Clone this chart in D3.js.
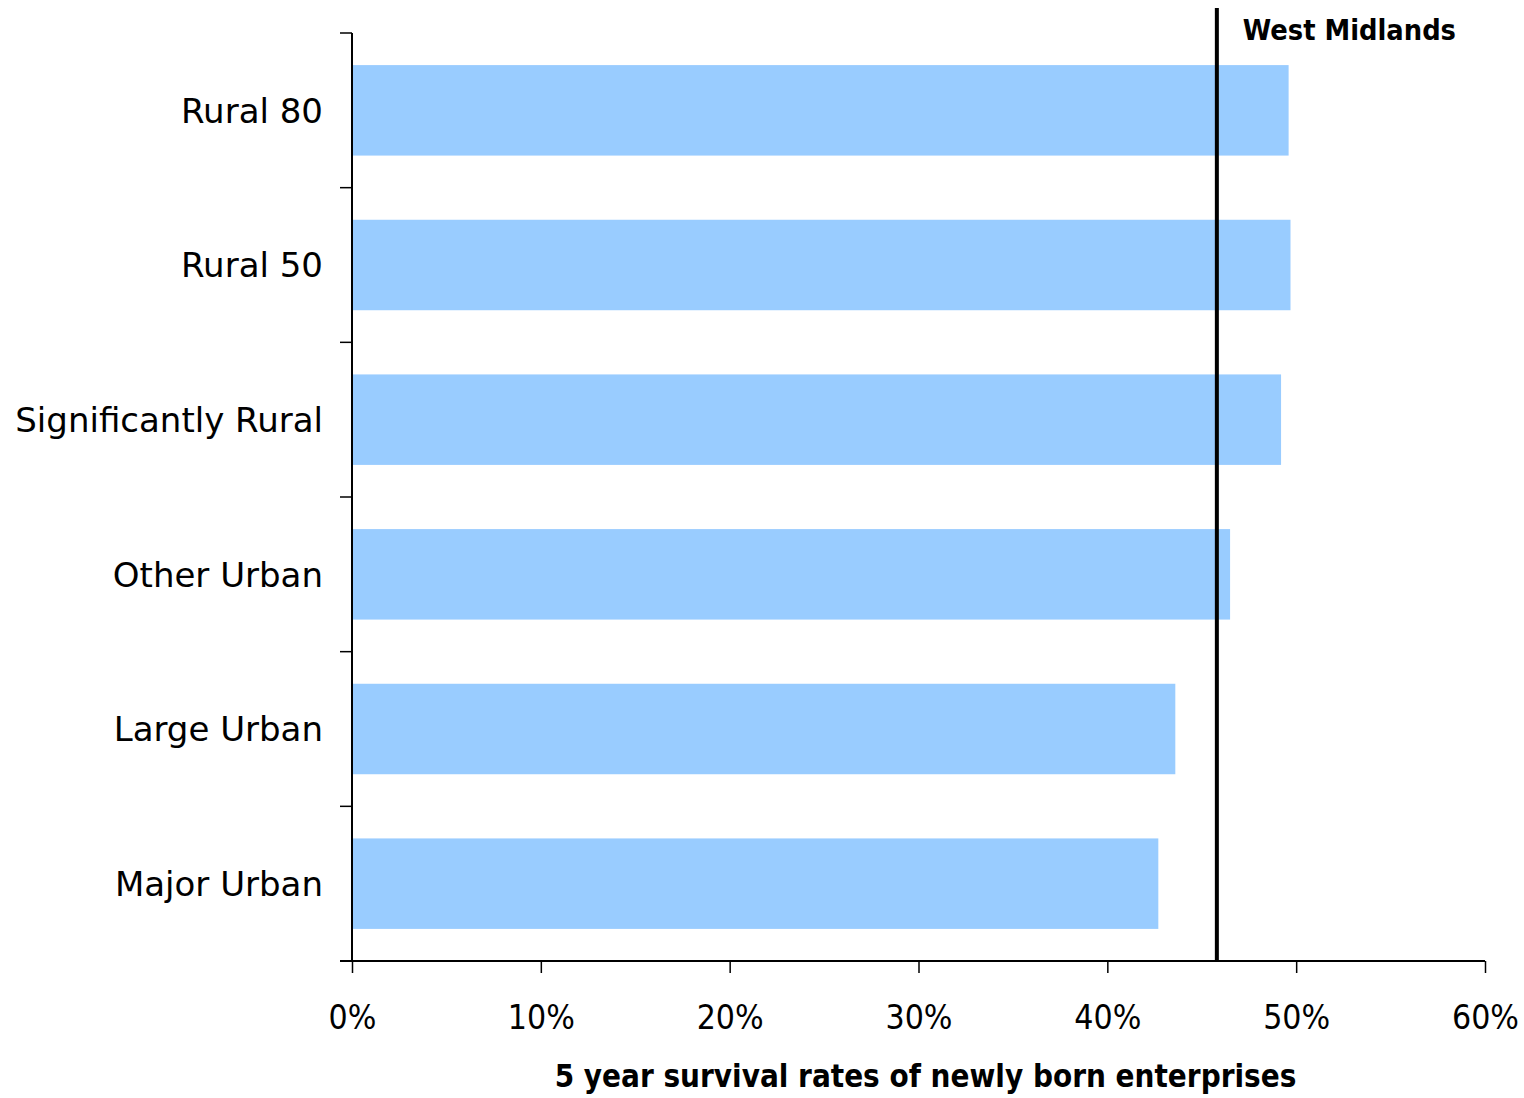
<!DOCTYPE html>
<html><head><meta charset="utf-8">
<script src="https://cdn.jsdelivr.net/npm/d3@7"></script>
<style>body{margin:0;background:#fff}text{font-family:"DejaVu Sans Condensed","DejaVu Sans",sans-serif;font-stretch:condensed}</style>
</head><body>
<svg id="c" width="1524" height="1098"></svg>
<script>
const categories = ["Rural 80","Rural 50","Significantly Rural","Other Urban","Large Urban","Major Urban"];
const values = [49.6, 49.7, 49.2, 46.5, 43.6, 42.7];
const referenceValue = 45.8;
const referenceLabel = "West Midlands";
const xTicks = [0,10,20,30,40,50,60];
const xTitle = "5 year survival rates of newly born enterprises";

const svg = d3.select("#c");
const m = {l:352, r:1485, t:33, b:961};
const x = d3.scaleLinear().domain([0,60]).range([m.l, m.r]);
const y = d3.scaleBand().domain(categories).range([m.t, m.b]).paddingInner(0.415).paddingOuter(0.2075);

svg.selectAll("rect.bar").data(categories).enter().append("rect")
  .attr("x", x(0)).attr("y", d=>y(d))
  .attr("width", (d,i)=>x(values[i])-x(0)).attr("height", y.bandwidth())
  .attr("fill","#99CCFF");

// y axis
const yb = d3.scaleLinear().domain([0,categories.length]).range([m.t,m.b]);
const gy = svg.append("g");
gy.append("line").attr("x1",m.l).attr("x2",m.l).attr("y1",m.t).attr("y2",m.b).attr("stroke","#000").attr("stroke-width",2);
gy.selectAll("line.t").data(d3.range(categories.length+1)).enter().append("line")
  .attr("x1",m.l-12).attr("x2",m.l).attr("y1",d=>yb(d)).attr("y2",d=>yb(d)).attr("stroke","#000").attr("stroke-width",1.5);
gy.selectAll("text").data(categories).enter().append("text")
  .attr("x",m.l-29).attr("y",d=>y(d)+y.bandwidth()/2).attr("dy","0.36em")
  .attr("text-anchor","end").attr("font-size",34)
  .style("font-family","'DejaVu Sans',sans-serif").style("font-stretch","normal").text(d=>d);

// x axis
const gx = svg.append("g").attr("transform",`translate(0,${m.b})`)
  .call(d3.axisBottom(x).tickValues(xTicks).tickFormat(d=>d+"%").tickSize(12).tickSizeOuter(0).tickPadding(32));
gx.select(".domain").remove();
gx.append("line").attr("x1",m.l-12).attr("x2",m.r).attr("stroke","#000").attr("stroke-width",2);
gx.selectAll(".tick line").attr("stroke","#000").attr("stroke-width",1.5);
gx.selectAll(".tick text").attr("font-size",33.5).attr("fill","#000").attr("font-family",null);

svg.append("text").attr("x",(555+1296)/2).attr("y",1087).attr("text-anchor","middle")
  .attr("font-size",31.1).attr("font-weight","bold").text(xTitle);

// reference line
svg.append("line").attr("x1",x(referenceValue)).attr("x2",x(referenceValue)).attr("y1",8).attr("y2",m.b)
  .attr("stroke","#000").attr("stroke-width",4);
svg.append("text").attr("x",x(referenceValue)+26).attr("y",40).attr("font-size",28.7).attr("font-weight","bold").text(referenceLabel);
</script></body></html>
